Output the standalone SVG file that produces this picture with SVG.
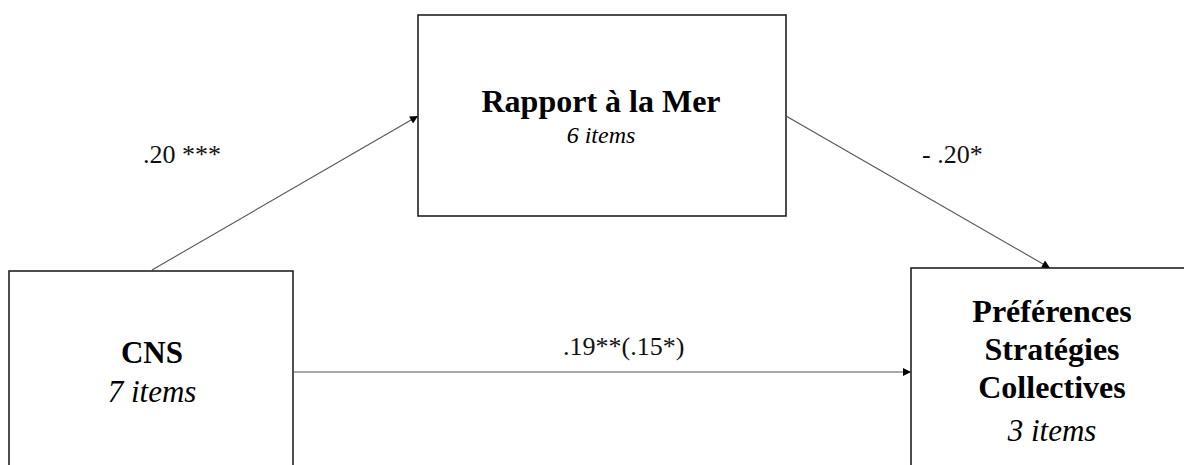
<svg xmlns="http://www.w3.org/2000/svg" width="1184" height="465" viewBox="0 0 1184 465">
<style>
.box{fill:#fff;stroke:#222;stroke-width:1.6}
.conn{stroke:#555;stroke-width:1.1;fill:none}
.t{font-family:"Liberation Serif","Times New Roman",serif;fill:#000;text-anchor:middle}
.b{font-weight:bold;font-size:32px}
.i{font-style:italic;font-size:31px}
.lab{font-family:"Liberation Serif","Times New Roman",serif;font-size:26px;fill:#111}
</style>
<defs>
<marker id="ah" viewBox="0 0 10 10" refX="10" refY="5" markerWidth="9" markerHeight="8" markerUnits="userSpaceOnUse" orient="auto">
<path d="M0,0 L10,5 L0,10 z" fill="#000"/>
</marker>
</defs>
<rect width="1184" height="465" fill="#fff"/>
<g id="rapport">
<rect class="box" x="418" y="15" width="368" height="201"/>
<text class="t b" x="601" y="112">Rapport à la Mer</text>
<text class="t i" x="601" y="143" style="font-size:24px">6 items</text>
</g>
<g id="cns">
<rect class="box" x="9" y="271" width="284" height="210"/>
<text class="t b" x="152" y="363" style="font-size:31px">CNS</text>
<text class="t i" x="152" y="402">7 items</text>
</g>
<g id="preferences">
<rect class="box" x="911" y="268" width="290" height="220"/>
<text class="t b" x="1052" y="322">Préférences</text>
<text class="t b" x="1052" y="360">Stratégies</text>
<text class="t b" x="1052" y="398">Collectives</text>
<text class="t i" x="1052" y="441">3 items</text>
</g>
<g id="connectors">
<line class="conn" x1="152" y1="270" x2="418" y2="116" marker-end="url(#ah)"/>
<line class="conn" x1="786" y1="116" x2="1050" y2="268" marker-end="url(#ah)"/>
<line class="conn" x1="293" y1="372" x2="911" y2="372" marker-end="url(#ah)"/>
<text class="lab" x="143" y="163">.20 ***</text>
<text class="lab" x="922" y="163">- .20*</text>
<text class="lab" x="563" y="355">.19**(.15*)</text>
</g>
</svg>
